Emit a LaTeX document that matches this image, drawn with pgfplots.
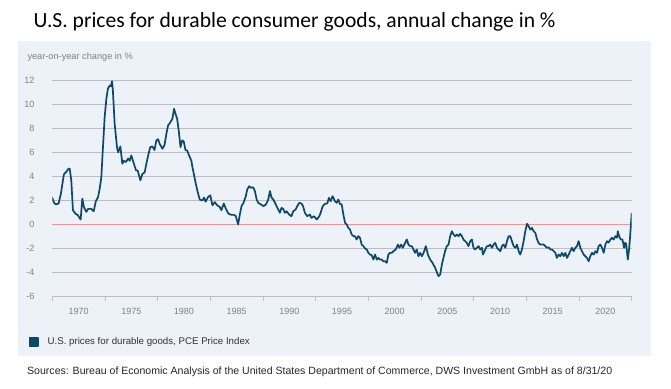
\documentclass[border=0pt]{standalone}
\usepackage{pgfplots}
\pgfplotsset{compat=1.18}
\usepackage{fontspec}
\setmainfont{Liberation Sans}
\newfontfamily\titlefont{Carlito}
\definecolor{panelbg}{RGB}{237,241,248}
\definecolor{linecol}{RGB}{12,72,106}
\definecolor{gridcol}{RGB}{188,190,195}
\definecolor{zerocol}{RGB}{236,150,150}
\definecolor{ticklab}{RGB}{125,130,136}
\begin{document}
\begin{tikzpicture}[x=1pt,y=1pt]
\path[use as bounding box] (0,0) rectangle (671,388);
\fill[white] (0,0) rectangle (671,388);
\fill[panelbg] (17.7,32) rectangle (650.5,347);
\node[anchor=base west, inner sep=0pt] at (33.3,360.3) {\titlefont\fontsize{21.6}{25}\selectfont U.S. prices for durable consumer goods, annual change in \%};
\node[anchor=base west, inner sep=0pt, text=ticklab] at (27.3,328.2) {\fontsize{9.2}{11}\selectfont year-on-year change in \%};
\node[anchor=west, inner sep=0pt, text=black!85] at (27,16) {\fontsize{10.55}{12}\selectfont Sources: Bureau of Economic Analysis of the United States Department of Commerce, DWS Investment GmbH as of 8/31/20};
\begin{axis}[
  at={(52.3pt,91.4pt)}, anchor=south west,
  scale only axis, width=579.4pt, height=216.3pt,
  xmin=1967.5, xmax=2022.5, ymin=-6, ymax=12,
  axis x line*=bottom, axis y line*=left,
  y axis line style={draw=none},
  x axis line style={draw=gridcol, line width=0.9pt, -},
  xtick={1970,1975,...,2020},
  minor xtick={1967.5,1972.5,...,2022.5},
  xtick style={draw=none},
  minor x tick style={draw=gridcol, line width=0.9pt},
  minor tick length=4pt,
  tick align=outside,
  ytick={-6,-4,-2,2,4,6,8,10,12},
  extra y ticks={0},
  extra y tick style={grid style={draw=zerocol, line width=0.9pt}},
  ytick style={draw=none},
  ymajorgrids,
  grid style={draw=gridcol, line width=0.9pt},
  xticklabel style={font=\fontsize{9}{10}\selectfont, text=ticklab, yshift=-4pt},
  yticklabel style={font=\fontsize{9}{10}\selectfont, text=ticklab, xshift=-10pt},
  /pgf/number format/assume math mode=true,
  /pgf/number format/1000 sep={},
  legend style={at={(-0.0414,-0.2106)}, anchor=west, draw=none, fill=none, inner sep=0pt, font=\fontsize{9.7}{11}\selectfont, text=black!80, nodes={inner sep=0pt}},
  legend image code/.code={\fill[fill=linecol] (0pt,-3.9pt) rectangle (8.7pt,3.9pt); \path (17.4pt,0pt);},
]
\addplot[linecol, line width=1.7pt, line join=round] coordinates {
(1967.46,2.29) (1967.7,1.75) (1967.88,1.68) (1968.1,1.75) (1968.3,2.5) (1968.6,4.17) (1968.8,4.36) (1969.05,4.65) (1969.15,4.65) (1969.3,3.7) (1969.46,1.19) (1969.7,0.9) (1969.93,0.77) (1970.19,0.41) (1970.35,2.15) (1970.5,1.46) (1970.73,1.05) (1970.9,1.3) (1971.2,1.3) (1971.43,1.1) (1971.62,1.9) (1971.85,2.3) (1972.0,3.0) (1972.15,3.9) (1972.25,5.5) (1972.47,8.93) (1972.63,10.45) (1972.78,11.3) (1972.94,11.56) (1973.05,11.5) (1973.17,11.92) (1973.25,11.15) (1973.42,8.38) (1973.64,6.44) (1973.75,6.0) (1973.96,6.5) (1974.15,5.06) (1974.3,5.3) (1974.5,5.2) (1974.7,5.5) (1974.85,5.3) (1975.0,5.75) (1975.3,4.9) (1975.45,4.5) (1975.6,4.5) (1975.86,3.68) (1976.05,4.2) (1976.27,4.35) (1976.43,5.06) (1976.6,5.75) (1976.8,6.44) (1977.0,6.5) (1977.2,6.2) (1977.38,7.0) (1977.54,7.1) (1977.7,6.7) (1977.96,6.3) (1978.15,6.6) (1978.33,7.55) (1978.49,8.24) (1978.7,8.5) (1978.9,8.8) (1979.06,9.63) (1979.2,9.2) (1979.35,8.8) (1979.5,7.83) (1979.67,6.44) (1979.83,7.0) (1979.98,6.9) (1980.15,6.17) (1980.3,6.17) (1980.48,5.75) (1980.7,5.3) (1980.8,4.78) (1980.93,4.23) (1981.12,3.4) (1981.3,2.7) (1981.5,2.07) (1981.75,2.0) (1981.9,2.24) (1982.05,1.9) (1982.3,2.3) (1982.5,2.43) (1982.7,1.6) (1982.93,1.86) (1983.15,1.6) (1983.4,1.46) (1983.55,1.19) (1983.78,1.75) (1983.98,1.3) (1984.2,0.91) (1984.5,0.8) (1984.75,0.8) (1984.92,0.7) (1985.14,0.0) (1985.3,0.83) (1985.46,1.53) (1985.65,1.8) (1985.87,2.36) (1986.0,2.9) (1986.19,3.19) (1986.35,3.05) (1986.5,3.1) (1986.6,3.05) (1986.73,2.78) (1986.9,2.08) (1987.05,1.8) (1987.3,1.67) (1987.55,1.53) (1987.78,1.67) (1988.0,2.08) (1988.16,2.78) (1988.32,2.22) (1988.48,2.08) (1988.64,1.8) (1988.79,1.53) (1988.95,1.25) (1989.1,0.97) (1989.26,1.39) (1989.42,1.3) (1989.58,0.97) (1989.74,1.1) (1989.98,0.83) (1990.2,0.69) (1990.37,1.1) (1990.6,1.25) (1990.75,1.53) (1990.94,1.8) (1991.15,1.75) (1991.3,1.53) (1991.48,0.97) (1991.7,0.69) (1991.95,0.83) (1992.1,0.55) (1992.34,0.69) (1992.6,0.42) (1992.85,0.69) (1992.97,0.97) (1993.17,1.53) (1993.38,1.72) (1993.6,1.75) (1993.76,2.22) (1993.92,1.94) (1994.11,2.36) (1994.33,1.94) (1994.5,1.8) (1994.65,2.08) (1994.8,1.72) (1994.97,1.67) (1995.13,0.83) (1995.29,0.14) (1995.45,0.0) (1995.6,-0.28) (1995.76,-0.42) (1995.92,-0.83) (1996.08,-0.97) (1996.23,-0.97) (1996.39,-1.25) (1996.55,-0.97) (1996.7,-1.1) (1996.87,-1.67) (1997.03,-1.8) (1997.19,-2.0) (1997.35,-2.08) (1997.5,-2.36) (1997.66,-2.5) (1997.82,-2.55) (1997.98,-2.92) (1998.14,-2.5) (1998.3,-2.92) (1998.45,-2.78) (1998.61,-2.92) (1998.77,-2.92) (1998.93,-3.06) (1999.09,-3.06) (1999.25,-3.19) (1999.4,-2.5) (1999.56,-2.36) (1999.72,-2.36) (1999.88,-2.22) (2000.1,-2.08) (2000.3,-1.67) (2000.45,-1.94) (2000.61,-1.67) (2000.77,-1.94) (2000.99,-1.53) (2001.15,-1.25) (2001.31,-1.67) (2001.47,-1.8) (2001.63,-1.8) (2001.78,-2.08) (2001.94,-2.36) (2002.1,-2.08) (2002.26,-2.64) (2002.42,-2.36) (2002.58,-2.64) (2002.74,-2.36) (2002.96,-1.8) (2003.15,-2.5) (2003.37,-2.92) (2003.59,-3.19) (2003.84,-3.6) (2004.03,-4.03) (2004.16,-4.3) (2004.32,-4.17) (2004.48,-3.33) (2004.63,-2.78) (2004.79,-2.2) (2004.95,-1.8) (2005.11,-1.67) (2005.27,-0.97) (2005.43,-0.56) (2005.58,-0.83) (2005.74,-0.97) (2005.9,-0.83) (2006.06,-0.97) (2006.22,-0.78) (2006.38,-0.97) (2006.53,-1.25) (2006.69,-1.39) (2006.85,-1.53) (2007.01,-1.8) (2007.17,-1.39) (2007.33,-1.25) (2007.48,-1.94) (2007.64,-2.08) (2007.8,-1.94) (2007.96,-1.8) (2008.12,-2.08) (2008.28,-1.94) (2008.38,-2.5) (2008.6,-2.08) (2008.75,-1.8) (2008.91,-1.8) (2009.07,-1.67) (2009.23,-1.94) (2009.39,-1.67) (2009.55,-1.53) (2009.71,-1.94) (2009.87,-2.08) (2010.03,-2.22) (2010.18,-1.8) (2010.34,-1.67) (2010.5,-1.94) (2010.66,-1.39) (2010.82,-0.97) (2010.97,-0.97) (2011.13,-1.39) (2011.29,-1.8) (2011.45,-1.94) (2011.61,-1.67) (2011.77,-2.22) (2011.92,-2.5) (2012.08,-2.08) (2012.24,-1.39) (2012.4,-0.56) (2012.56,0.06) (2012.72,-0.14) (2012.87,-0.42) (2013.03,-0.28) (2013.19,-0.56) (2013.35,-0.69) (2013.5,-1.2) (2013.66,-1.53) (2013.82,-1.67) (2013.98,-1.67) (2014.14,-1.67) (2014.3,-1.8) (2014.46,-1.94) (2014.62,-1.9) (2014.78,-2.08) (2014.93,-2.08) (2015.09,-2.22) (2015.25,-2.36) (2015.4,-2.78) (2015.56,-2.5) (2015.72,-2.64) (2015.88,-2.36) (2016.04,-2.64) (2016.2,-2.36) (2016.36,-2.78) (2016.52,-2.5) (2016.67,-2.22) (2016.83,-1.94) (2016.99,-2.22) (2017.15,-1.94) (2017.3,-1.8) (2017.46,-1.39) (2017.62,-1.94) (2017.78,-2.22) (2017.94,-2.5) (2018.1,-2.64) (2018.25,-2.78) (2018.41,-3.06) (2018.57,-2.64) (2018.73,-2.36) (2018.89,-2.5) (2019.05,-2.22) (2019.21,-2.36) (2019.36,-1.8) (2019.52,-1.67) (2019.68,-1.94) (2019.84,-2.36) (2020.0,-1.67) (2020.16,-1.39) (2020.32,-1.5) (2020.47,-1.25) (2020.63,-1.11) (2020.79,-1.25) (2020.95,-0.97) (2021.11,-1.1) (2021.18,-0.56) (2021.3,-0.97) (2021.46,-1.25) (2021.62,-1.25) (2021.78,-1.94) (2021.87,-1.53) (2021.97,-1.6) (2022.13,-2.92) (2022.25,-2.08) (2022.35,-0.97) (2022.5,0.97)
};
\addlegendentry{U.S. prices for durable goods, PCE Price Index}
\end{axis}
\end{tikzpicture}
\end{document}
